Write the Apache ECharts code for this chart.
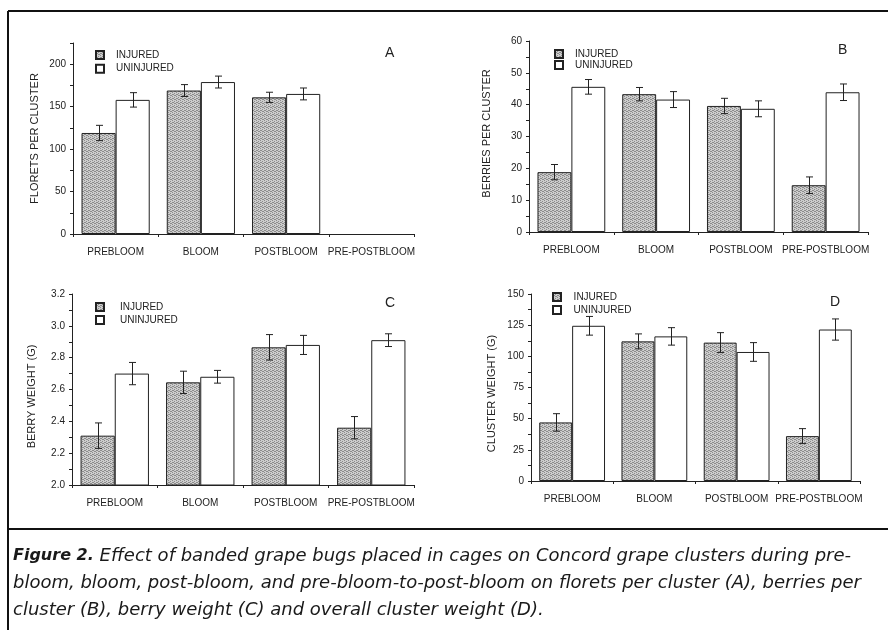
<!DOCTYPE html>
<html><head><meta charset="utf-8">
<script src="https://cdn.jsdelivr.net/npm/echarts@6/dist/echarts.min.js"></script>
<style>html,body{margin:0;padding:0;background:#fff}#c{width:888px;height:630px}</style>
</head><body><div id="c"></div>
<script>
// ---- data ----
const categories = ['PREBLOOM', 'BLOOM', 'POSTBLOOM', 'PRE-POSTBLOOM'];
const seriesNames = ['INJURED', 'UNINJURED'];
const panelLetters = ['A', 'B', 'C', 'D'];
const yTitles = ['FLORETS PER CLUSTER', 'BERRIES PER CLUSTER', 'BERRY WEIGHT (G)', 'CLUSTER WEIGHT (G)'];

const floretsInjured = [119, 169, 161, null];
const floretsInjuredErr = [9, 7, 6, null];
const floretsUninjured = [158, 179, 165, null];
const floretsUninjuredErr = [8.5, 7, 7, null];

const berriesInjured = [18.8, 43.3, 39.6, 14.7];
const berriesInjuredErr = [2.4, 2.1, 2.4, 2.6];
const berriesUninjured = [45.6, 41.6, 38.7, 43.9];
const berriesUninjuredErr = [2.3, 2.5, 2.5, 2.6];

const berryWtInjured = [2.31, 2.645, 2.865, 2.36];
const berryWtInjuredErr = [0.08, 0.07, 0.08, 0.07];
const berryWtUninjured = [2.70, 2.68, 2.88, 2.91];
const berryWtUninjuredErr = [0.07, 0.04, 0.06, 0.04];

const clusterWtInjured = [47, 112, 111, 36];
const clusterWtInjuredErr = [7, 6, 8, 6];
const clusterWtUninjured = [124.5, 116, 103.5, 121.5];
const clusterWtUninjuredErr = [7.5, 7, 7.5, 8.5];

const yMin = [0, 0, 2.0, 0];
const yMax = [225, 60, 3.2, 150];
const yTickStep = [25, 5, 0.1, 12.5];
const yLabelStep = [50, 10, 0.2, 25];
const yLabelDecimals = [0, 0, 1, 0];

const captionBold = 'Figure 2.';
const captionLines = [
  ' Effect of banded grape bugs placed in cages on Concord grape clusters during pre-',
  'bloom, bloom, post-bloom, and pre-bloom-to-post-bloom on florets per cluster (A), berries per',
  'cluster (B), berry weight (C) and overall cluster weight (D).'
];

const panels = [
  [floretsInjured, floretsInjuredErr, floretsUninjured, floretsUninjuredErr],
  [berriesInjured, berriesInjuredErr, berriesUninjured, berriesUninjuredErr],
  [berryWtInjured, berryWtInjuredErr, berryWtUninjured, berryWtUninjuredErr],
  [clusterWtInjured, clusterWtInjuredErr, clusterWtUninjured, clusterWtUninjuredErr]
];

// ---- layout / style ----
const grids = [
  {left: 73, top: 43, width: 341, height: 191},
  {left: 529, top: 41, width: 339, height: 191},
  {left: 72, top: 294, width: 342, height: 191},
  {left: 531, top: 294, width: 329, height: 187}
];
const nameGaps = [33, 37, 35, 34];
const namePads = [[0,0,0,0],[0,0,0,6],[0,14,0,0],[0,12,0,0]];
const legendPos = [
  {left: 95, top: 50, itemGap: 3.7, pad: 7},
  {left: 554, top: 49, itemGap: 1, pad: 7},
  {left: 95, top: 302, itemGap: 3, pad: 11},
  {left: 552, top: 292, itemGap: 3, pad: 7.6}
];
const letterPos = [[390, 54], [843, 51], [390, 304], [835, 303]];
const FONT = '"Liberation Sans", Arial, sans-serif';
const CAPFONT = '"DejaVu Sans", "Liberation Sans", sans-serif';
const INK = '#222';

function makePattern() {
  const c = document.createElement('canvas');
  c.width = 4; c.height = 4;
  const ctx = c.getContext('2d');
  ctx.fillStyle = '#cdcdcd'; ctx.fillRect(0, 0, 4, 4);
  ctx.fillStyle = '#8c8c8c';
  [[0,0],[2,1],[1,2],[3,3],[2,3],[0,2]].forEach(p => ctx.fillRect(p[0], p[1], 1, 1));
  return c;
}
const pattern = {image: makePattern(), repeat: 'repeat'};

function errRender(params, api) {
  const cat = api.value(0), lo = api.value(1), hi = api.value(2), side = api.value(3);
  const bw = api.size([1, 0])[0];
  const off = (side === 0 ? -1 : 1) * bw * 0.2;
  const pHi = api.coord([cat, hi]);
  const pLo = api.coord([cat, lo]);
  const x = Math.round(pHi[0] + off) + 0.5;
  const h = 3.5;
  const st = {stroke: INK, lineWidth: 1};
  return {type: 'group', children: [
    {type: 'line', shape: {x1: x, y1: pHi[1], x2: x, y2: pLo[1]}, style: st},
    {type: 'line', shape: {x1: x - h, y1: pHi[1], x2: x + h, y2: pHi[1]}, style: st},
    {type: 'line', shape: {x1: x - h, y1: pLo[1], x2: x + h, y2: pLo[1]}, style: st}
  ]};
}

const option = {
  backgroundColor: '#fff',
  animation: false,
  textStyle: {fontFamily: FONT},
  grid: grids.map(g => Object.assign({containLabel: false}, g)),
  xAxis: grids.map((g, i) => ({
    type: 'category', gridIndex: i, data: categories,
    axisLine: {onZero: false, lineStyle: {color: INK, width: 1}},
    axisTick: {show: true, length: 3, lineStyle: {color: INK}},
    axisLabel: {color: INK, fontSize: 10, margin: 13, interval: 0, fontFamily: FONT},
    splitLine: {show: false}
  })),
  yAxis: grids.map((g, i) => ({
    type: 'value', gridIndex: i, min: yMin[i], max: yMax[i], interval: yTickStep[i],
    name: yTitles[i], nameLocation: 'middle', nameRotate: 90, nameGap: nameGaps[i],
    nameTextStyle: {color: INK, fontSize: 11, fontFamily: FONT, padding: namePads[i]},
    axisLine: {show: true, lineStyle: {color: INK, width: 1}},
    axisTick: {show: true, length: 3, lineStyle: {color: INK}},
    axisLabel: {
      color: INK, fontSize: 10, margin: 7, fontFamily: FONT,
      showMaxLabel: true, showMinLabel: true,
      formatter: function (v) {
        const r = (v - yMin[i]) / yLabelStep[i];
        if (Math.abs(r - Math.round(r)) > 1e-6) return '';
        return v.toFixed(yLabelDecimals[i]);
      }
    },
    splitLine: {show: false}
  })),
  legend: legendPos.map(l => ({
    data: seriesNames, orient: 'vertical', left: l.left, top: l.top, padding: 0,
    itemGap: l.itemGap, itemWidth: 8, itemHeight: 8, icon: 'rect', selectedMode: false,
    textStyle: {color: INK, fontSize: 10, lineHeight: 10, fontFamily: FONT, padding: [0, 0, 0, l.pad]}
  })),
  series: [],
  graphic: []
};

panels.forEach((p, i) => {
  option.series.push({
    type: 'bar', name: seriesNames[0], xAxisIndex: i, yAxisIndex: i, data: p[0],
    barGap: '0%', barCategoryGap: '20%',
    itemStyle: {color: pattern, borderColor: INK, borderWidth: 1}
  });
  option.series.push({
    type: 'bar', name: seriesNames[1], xAxisIndex: i, yAxisIndex: i, data: p[2],
    barGap: '0%', barCategoryGap: '20%',
    itemStyle: {color: '#fff', borderColor: INK, borderWidth: 1}
  });
  const errData = [];
  [0, 1].forEach(s => {
    const vals = p[s * 2], errs = p[s * 2 + 1];
    vals.forEach((v, k) => {
      if (v != null) errData.push([k, v - errs[k], v + errs[k], s]);
    });
  });
  option.series.push({
    type: 'custom', name: 'err' + i, xAxisIndex: i, yAxisIndex: i, z: 5,
    renderItem: errRender, encode: {x: 0, y: [1, 2]}, data: errData, clip: false
  });
  option.graphic.push({
    type: 'text', left: letterPos[i][0] - 5, top: letterPos[i][1] - 8,
    style: {text: panelLetters[i], fontSize: 14, fill: INK, fontFamily: FONT}
  });
});

// frame lines and caption
const capStyle = {fontSize: 18, fontStyle: 'italic', fill: '#1a1a1a', fontFamily: CAPFONT};
option.graphic.push(
  {type: 'line', shape: {x1: 8, y1: 11, x2: 888, y2: 11}, style: {stroke: '#111', lineWidth: 2}},
  {type: 'line', shape: {x1: 8, y1: 11, x2: 8, y2: 630}, style: {stroke: '#111', lineWidth: 2}},
  {type: 'line', shape: {x1: 8, y1: 529, x2: 888, y2: 529}, style: {stroke: '#111', lineWidth: 2}},
  {type: 'text', left: 13, top: 547, style: Object.assign({
    text: '{b|' + captionBold + '}' + captionLines[0],
    rich: {b: {fontWeight: 'bold', fontStyle: 'italic', fontSize: 16, fill: '#1a1a1a', fontFamily: CAPFONT}}
  }, capStyle)},
  {type: 'text', left: 13, top: 574, style: Object.assign({text: captionLines[1]}, capStyle)},
  {type: 'text', left: 13, top: 601, style: Object.assign({text: captionLines[2]}, capStyle)}
);

const chart = echarts.init(document.getElementById('c'), null, {renderer: 'canvas'});
chart.setOption(option);
</script>
</body></html>
